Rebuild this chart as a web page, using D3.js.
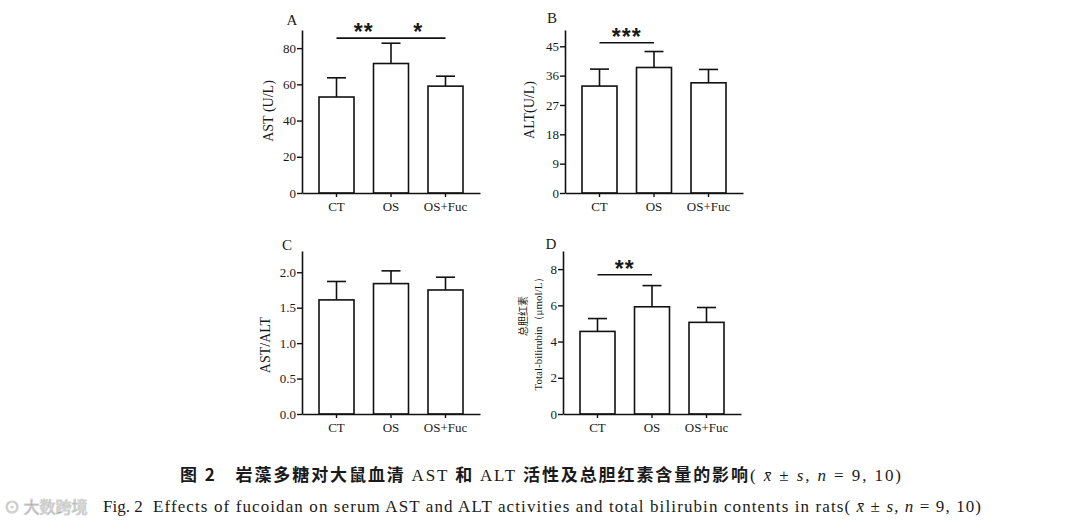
<!DOCTYPE html>
<html>
<head>
<meta charset="utf-8">
<script src="https://cdn.jsdelivr.net/npm/d3@7"></script>
<style>
  body { margin: 0; background: #fff; }
  svg { display: block; }
  text { fill: #1a1a1a; }
</style>
</head>
<body>
<div id="chart"></div>
<script>

// group names and values (mean, upper sd)
var groups = ["CT", "OS", "OS+Fuc"];

var astMean = [53, 71.5, 59];
var astSd = [10.6, 11.2, 5.5];
var altMean = [32.8, 38.5, 33.8];
var altSd = [5.2, 4.9, 4.1];
var ratioMean = [1.61, 1.84, 1.75];
var ratioSd = [0.26, 0.18, 0.18];
var tbilMean = [4.56, 5.92, 5.06];
var tbilSd = [0.71, 1.17, 0.82];

var astTicks = [0, 20, 40, 60, 80];
var altTicks = [0, 9, 18, 27, 36, 45];
var ratioTicks = [0, 0.5, 1.0, 1.5, 2.0];
var tbilTicks = [0, 2, 4, 6, 8];

var astSig = [{ from: "CT", to: "OS", label: "**", level: 85.5 },
              { from: "OS", to: "OS+Fuc", label: "*", level: 85.5 }];
var altSig = [{ from: "CT", to: "OS", label: "***", level: 46.1 }];
var tbilSig = [{ from: "CT", to: "OS", label: "**", level: 7.69 }];

var W = 1080, H = 530;
var plotW = 178, plotH = 163;

var svg = d3.select("#chart").append("svg")
    .attr("width", W)
    .attr("height", H);

var serif = "'Liberation Serif', 'DejaVu Serif', serif";

function drawPanel(opt) {
  var g = svg.append("g")
      .attr("transform", "translate(" + opt.left + "," + opt.top + ")");

  var x = d3.scaleBand()
      .domain(groups)
      .range([0, plotW])
      .paddingInner(0.358)
      .paddingOuter(0.312);

  var y = d3.scaleLinear()
      .domain([0, opt.max])
      .range([plotH, 0]);

  var rows = groups.map(function (d, i) {
    return { name: d, mean: opt.mean[i], sd: opt.sd[i] };
  });

  // error bars first so the bar outline sits on top
  var err = g.selectAll("g.err").data(rows).enter().append("g").attr("class", "err");
  err.append("line")
      .attr("x1", function (d) { return x(d.name) + x.bandwidth() / 2; })
      .attr("x2", function (d) { return x(d.name) + x.bandwidth() / 2; })
      .attr("y1", function (d) { return y(d.mean); })
      .attr("y2", function (d) { return y(d.mean + d.sd); })
      .attr("stroke", "#111").attr("stroke-width", 1.6);
  err.append("line")
      .attr("x1", function (d) { return x(d.name) + x.bandwidth() / 2 - 9.5; })
      .attr("x2", function (d) { return x(d.name) + x.bandwidth() / 2 + 9.5; })
      .attr("y1", function (d) { return y(d.mean + d.sd); })
      .attr("y2", function (d) { return y(d.mean + d.sd); })
      .attr("stroke", "#111").attr("stroke-width", 1.6);

  g.selectAll("rect.bar").data(rows).enter().append("rect")
      .attr("class", "bar")
      .attr("x", function (d) { return x(d.name); })
      .attr("y", function (d) { return y(d.mean); })
      .attr("width", x.bandwidth())
      .attr("height", function (d) { return plotH - y(d.mean); })
      .attr("fill", "#fff")
      .attr("stroke", "#111")
      .attr("stroke-width", 1.6);

  var yAxis = g.append("g")
      .call(d3.axisLeft(y).tickValues(opt.ticks).tickSize(5).tickSizeOuter(0)
        .tickPadding(1).tickFormat(opt.fmt));

  var xAxis = g.append("g")
      .attr("transform", "translate(0," + plotH + ")")
      .call(d3.axisBottom(x).tickSize(4).tickSizeOuter(0).tickPadding(5));

  [yAxis, xAxis].forEach(function (a) {
    a.select(".domain").attr("stroke", "#111").attr("stroke-width", 1.6);
    a.selectAll(".tick line").attr("stroke", "#111").attr("stroke-width", 1.4);
    a.selectAll(".tick text")
        .attr("font-family", serif)
        .attr("font-size", 13)
        .attr("fill", "#1a1a1a");
  });

  // significance brackets
  (opt.sig || []).forEach(function (s) {
    var x1 = x(s.from) + x.bandwidth() / 2;
    var x2 = x(s.to) + x.bandwidth() / 2;
    g.append("line")
        .attr("x1", x1).attr("x2", x2)
        .attr("y1", y(s.level)).attr("y2", y(s.level))
        .attr("stroke", "#111").attr("stroke-width", 1.6);
    g.append("text")
        .attr("x", (x1 + x2) / 2)
        .attr("y", y(s.level) + 2)
        .attr("text-anchor", "middle")
        .attr("font-family", "'Liberation Sans', Arial, sans-serif")
        .attr("font-weight", "bold")
        .attr("font-size", 23)
        .attr("letter-spacing", 1)
        .text(s.label);
  });

  svg.append("text")
      .attr("x", opt.letter[0]).attr("y", opt.letter[1])
      .attr("text-anchor", "middle")
      .attr("font-family", serif)
      .attr("font-size", 15)
      .text(opt.name);
}

drawPanel({ name: "A", left: 302, top: 30, max: 90, ticks: astTicks, mean: astMean, sd: astSd,
            sig: astSig, fmt: d3.format("d"), letter: [292, 25] });
drawPanel({ name: "B", left: 565, top: 30, max: 50, ticks: altTicks, mean: altMean, sd: altSd,
            sig: altSig, fmt: d3.format("d"), letter: [552, 23] });
drawPanel({ name: "C", left: 302, top: 251, max: 2.3, ticks: ratioTicks, mean: ratioMean, sd: ratioSd,
            fmt: d3.format(".1f"), letter: [287, 250] });
drawPanel({ name: "D", left: 563, top: 251, max: 9, ticks: tbilTicks, mean: tbilMean, sd: tbilSd,
            sig: tbilSig, fmt: d3.format("d"), letter: [551, 249] });

// y axis titles
function yTitle(txt, cx, cy, size) {
  svg.append("text")
      .attr("transform", "translate(" + cx + "," + cy + ") rotate(-90)")
      .attr("text-anchor", "middle")
      .attr("dy", "0.35em")
      .attr("font-family", serif)
      .attr("font-size", size)
      .text(txt);
}
yTitle("AST (U/L)", 268, 111, 14);
yTitle("ALT(U/L)", 529, 110, 14);
yTitle("AST/ALT", 265, 345, 14);
yTitle("Total-bilirubin（μmol/L）", 538, 331, 11);
svg.append("text")
    .attr("transform", "translate(523,316) rotate(-90)")
    .attr("text-anchor", "middle")
    .attr("dy", "0.35em")
    .attr("font-family", "'Noto Sans CJK SC', sans-serif")
    .attr("font-size", 10)
    .attr("fill", "#444")
    .text("总胆红素");

// caption
var cjk = "'Noto Sans CJK SC', sans-serif";
var cn = svg.append("text")
    .attr("x", 180).attr("y", 481)
    .attr("font-size", 17)
    .attr("textLength", 721)
    .attr("lengthAdjust", "spacing");
[["图 2　岩藻多糖对大鼠血清 ", cjk, "bold", "normal"],
 ["AST ", serif, "normal", "normal"],
 ["和 ", cjk, "bold", "normal"],
 ["ALT ", serif, "normal", "normal"],
 ["活性及总胆红素含量的影响", cjk, "bold", "normal"],
 ["( ", serif, "normal", "normal"],
 ["x̄", serif, "normal", "italic"],
 [" ± ", serif, "normal", "normal"],
 ["s", serif, "normal", "italic"],
 [", ", serif, "normal", "normal"],
 ["n", serif, "normal", "italic"],
 [" = 9, 10)", serif, "normal", "normal"]].forEach(function (p) {
  cn.append("tspan")
      .attr("font-family", p[1])
      .attr("font-weight", p[2])
      .attr("font-style", p[3])
      .text(p[0]);
});

svg.append("text")
    .attr("x", 103).attr("y", 512)
    .attr("font-family", serif)
    .attr("font-size", 17)
    .text("Fig. 2");

var en = svg.append("text")
    .attr("x", 153).attr("y", 512)
    .attr("font-family", serif)
    .attr("font-size", 17)
    .attr("textLength", 828)
    .attr("lengthAdjust", "spacing");
[["Effects of fucoidan on serum AST and ALT activities and total bilirubin contents in rats( ", "normal"],
 ["x̄", "italic"], [" ± ", "normal"], ["s", "italic"], [", ", "normal"],
 ["n", "italic"], [" = 9, 10)", "normal"]].forEach(function (p) {
  en.append("tspan").attr("font-style", p[1]).text(p[0]);
});

// faint watermark of the source page
svg.append("text")
    .attr("x", 4).attr("y", 513)
    .attr("font-family", cjk)
    .attr("font-size", 16)
    .attr("fill", "#fff")
    .attr("stroke", "#c8c8c8")
    .attr("stroke-width", 1)
    .attr("opacity", 0.8)
    .text("⊙ 大数跨境");
</script>
</body>
</html>
